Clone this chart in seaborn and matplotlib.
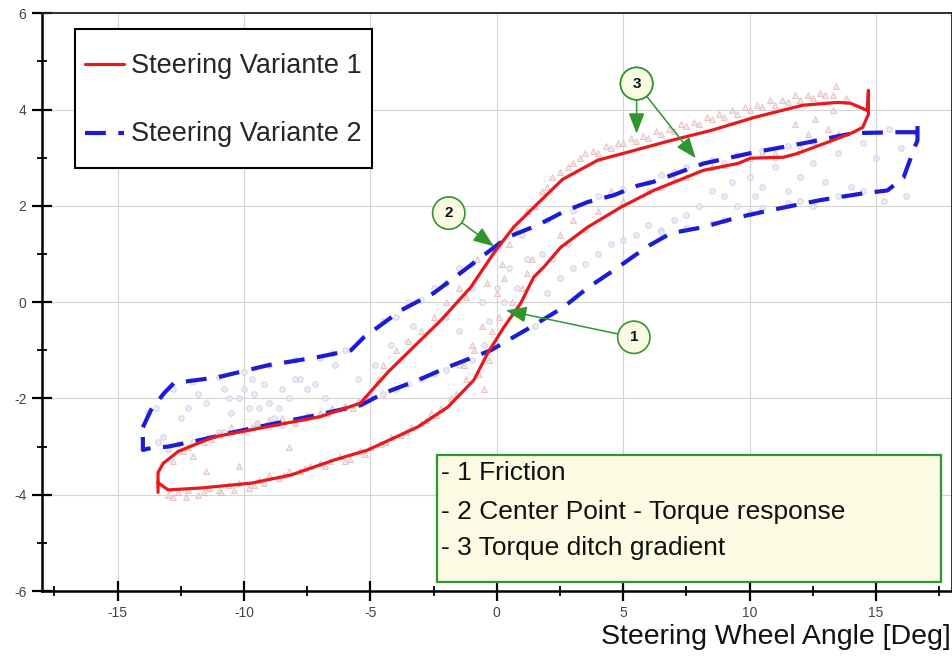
import numpy as np
import matplotlib
matplotlib.use("Agg")
import matplotlib.pyplot as plt
import seaborn as sns
from matplotlib.patches import Rectangle
from matplotlib.ticker import MultipleLocator

# steering variante 1 (red) hysteresis loop
red_x = [-13.4, -13.4, -13.2, -12.6, -11.2, -10.0, -8.2, -7.0, -5.4, -4.3, -2.2,
         -1.03, -0.12, 0.67, 1.62, 2.6, 4.0, 5.0, 6.9, 8.5, 10.2, 12.1, 13.5, 14.0,
         14.66, 14.7, 14.7, 14.47, 14.11, 13.08, 11.9, 11.34, 10.04, 9.53, 8.18,
         6.2, 4.9, 3.6, 2.53, 1.86, 1.46, 0.95, 0.28, -0.36, -0.91, -1.94, -3.12,
         -5.1, -6.44, -8.14, -9.72, -11.7, -13.0, -13.4]
red_y = [-3.95, -3.54, -3.35, -3.1, -2.8, -2.68, -2.5, -2.38, -2.1, -1.45, -0.37,
         0.31, 1.02, 1.56, 2.05, 2.55, 2.95, 3.09, 3.36, 3.57, 3.84, 4.09, 4.15, 4.13,
         3.98, 4.4, 3.9, 3.63, 3.53, 3.32, 3.09, 3.01, 2.99, 2.88, 2.74,
         2.32, 1.97, 1.56, 1.14, 0.73, 0.52, -0.02, -0.52, -1.06, -1.62, -2.18, -2.59,
         -3.07, -3.28, -3.59, -3.76, -3.86, -3.9, -3.75]

# steering variante 2 (blue) loop
blue_x = [-14.0, -13.68, -13.16, -12.77, -11.03, -9.05, -7.07, -5.77, -5.26, -4.86,
          -3.79, -2.49, -1.3, -0.63, 0.43, 1.62, 2.65, 3.6, 4.62, 5.57, 6.2, 8.18,
          10.16, 12.13, 14.1, 15.85, 16.64, 16.64, 16.64, 16.48, 16.09, 15.45, 14.5,
          12.8, 10.83, 9.53, 8.18, 6.88, 5.97, 4.62, 3.6, 2.65, 1.34, -0.24, -1.94,
          -3.12, -4.47, -5.38, -7.07, -9.05, -10.4, -11.7, -13.0, -13.68, -14.0, -14.0]
blue_y = [-2.6, -2.24, -1.89, -1.68, -1.56, -1.31, -1.14, -1.0, -0.73, -0.58,
          -0.17, 0.19, 0.66, 0.93, 1.35, 1.6, 1.88, 2.08, 2.22, 2.42, 2.5, 2.88,
          3.11, 3.3, 3.51, 3.53, 3.53, 3.71, 3.36, 3.15, 2.59, 2.32, 2.26,
          2.12, 1.91, 1.76, 1.56, 1.43, 1.16, 0.66, 0.3, -0.1, -0.52, -1.0, -1.35,
          -1.62, -1.89, -2.14, -2.34, -2.55, -2.7, -2.86, -3.0, -3.03, -3.07, -2.6]

# measured samples behind the curves (triangles = variante 1)
tri_x = [-13.0, -12.6, -12.2, -11.8, -11.4, -11.0, -10.6, -10.2, -9.8, -9.4, -9.0, -8.6,
         -8.2, -7.8, -7.4, -7.0, -6.6, -6.2, -5.8, -5.4, -5.0, -4.6, -4.2, -3.8, -3.4,
         -3.0, -2.6, -2.2, -1.8, -12.8, -12.4, -12.0, -11.6, -11.0, -10.5, -10.0, -9.5,
         -9.0, -8.5, -8.0, -7.5, -7.0, -6.5, -6.0, -5.5, -8.2, -10.2, -11.5, -4.5, -4.0,
         -3.5, -3.0, -2.5, -2.0, -1.5, -1.0, -0.6, -0.3, -0.5, 0.0, 0.2, 0.5, -0.8, 0.8,
         1.0, 1.4, 1.5, 2.0, 2.5, 3.0, 3.5, 4.0, 4.5, 5.0, 5.5, 6.0, 6.5, 7.0, 7.5, 8.0,
         8.5, 9.0, 9.5, 10.0, 10.5, 11.0, 11.5, 12.0, 12.5, 13.0, 13.4, 11.8, 12.3, 12.6,
         13.1, 13.3, 2.5, 3.0, 4.0, 5.0, 6.0, 6.5, 7.5, 9.0, 11.0, 12.0, 4.5,
         1.2, 1.8, 2.2, 2.8, 3.3, 3.8, 4.3, 4.8, 5.3, 5.8, 6.3, 6.8, 7.3, 7.8, 8.3, 8.8,
         9.3, 9.8, 10.3, 10.8, 11.3, 11.8, 12.3, 12.8, 13.3, 13.8,
         -12.8, -12.3, -11.6, -10.9, -10.4, -9.6, -9.2, -8.4, -7.6, -6.8, -6.0, -5.2,
         -4.4, -3.6, -2.8, -2.4, -1.6, -1.2,
         -12.2, -11.3, -9.7, -8.7, -7.7, -6.7, -5.7, -5.0, -4.7,
         -1.3, -0.9, -0.7, -0.2, 0.1, 0.3, -0.4, 0.6, 1.2, -1.2,
         7.0, 8.5, 10.0, 10.5, 12.5, 13.5]
tri_y = [-4.0, -3.95, -3.9, -4.0, -3.85, -3.9, -3.8, -3.75, -3.85, -3.7, -3.6, -3.65,
         -3.5, -3.5, -3.4, -3.35, -3.3, -3.2, -3.25, -3.1, -3.0, -2.95, -2.8, -2.75, -2.6,
         -2.5, -2.3, -2.2, -2.0, -3.3, -3.1, -3.2, -2.9, -2.75, -2.6, -2.65, -2.5,
         -2.45, -2.4, -2.5, -2.35, -2.3, -2.2, -2.15, -2.05, -3.0, -3.4, -3.5, -1.3, -1.0,
         -0.8, -0.6, -0.3, 0.0, 0.3, -0.9, -0.5, -1.2, -1.8, 0.2, 0.8, 1.2, 0.9, 1.5,
         0.3, 0.9, 2.0, 2.4, 2.7, 2.9, 3.1, 3.1, 3.2, 3.3, 3.35, 3.4, 3.5, 3.55, 3.65, 3.7,
         3.8, 3.85, 3.9, 4.0, 4.05, 4.1, 4.15, 4.2, 4.25, 4.3, 4.5, 3.7, 3.5, 3.8,
         3.6, 4.0, 1.4, 1.7, 1.9, 2.1, 2.3, 2.4, 2.6, 2.85, 3.1, 3.2, 2.3,
         1.9, 2.3, 2.6, 2.8, 3.0, 3.15, 3.25, 3.3, 3.4, 3.45, 3.55, 3.6, 3.7, 3.75, 3.85, 3.9,
         4.0, 4.05, 4.1, 4.2, 4.2, 4.3, 4.3, 4.35, 4.3, 4.25,
         -4.05, -4.05, -3.95, -3.95, -3.9, -3.8, -3.75, -3.6, -3.45, -3.4, -3.3, -3.15,
         -2.9, -2.7, -2.45, -2.35, -1.9, -1.6,
         -3.0, -2.85, -2.6, -2.5, -2.4, -2.3, -2.2, -1.9, -1.6,
         -1.3, -1.0, -1.5, -0.6, -0.3, 0.5, 0.4, 0.0, 0.6, 0.1,
         2.55, 2.8, 3.0, 3.1, 3.35, 3.5]

# circles = variante 2
circ_x = [-13.5, -13.2, -12.8, -12.0, -11.0, -10.0, -9.0, -8.0, -7.0, -6.5, -6.0,
          -10.5, -10.2, -10.0, -9.8, -9.6, -9.5, -9.2, -9.0, -8.8, -8.5, -8.2, -7.8,
          -7.5, -11.5, -12.5, -11.0, -9.9, -13.0, -12.0, -11.0, -10.0, -9.0, -8.0, -7.0,
          -6.0, -5.0, -4.0, -3.0, -2.0, -1.0, -4.5, -4.0, -3.5, -3.0, -2.5, -2.0, -1.5,
          -1.0, 0.0, 1.0, 2.0, 3.0, 4.0, 5.0, 0.0, 0.3, -0.3, 0.5, -0.5, 1.0, 1.5, 2.0,
          2.5, 3.0, 3.5, 4.0, 4.5, 5.0, 5.5, 6.0, 6.5, 7.0, 6.0, 7.0, 7.5, 8.0, 8.5, 9.0,
          9.3, 9.5, 10.0, 10.2, 10.5, 11.0, 11.5, 12.0, 12.5, 13.0, 13.5, 14.0, 15.0,
          16.2, 15.3, 12.5, 14.5, 11.0, 9.0,
          6.5, 7.5, 8.5, 9.0, 10.0, 10.5, 11.5, 12.0, 13.5, 14.5,
          6.5, 7.5, 8.5, 9.5, 10.5, 11.5, 12.5, 13.5, 15.5, 16.0,
          -2.0, -1.5, -1.0, -0.6, 0.8, 1.2, 1.8, 2.2, 3.5, 2.8,
          -12.2, -11.8, -10.8, -10.6, -9.4, -9.7, -8.6, -8.0, -7.2, -6.8, -6.4, -5.5,
          -4.8, -4.2, -3.8, -3.3, -13.8, -13.4, -12.6, -11.4, -10.8, -8.5, -7.5, -6.5,
          -5.5, -4.5, -3.5, -2.5, -1.5]
circ_y = [-2.2, -2.8, -1.8, -1.65, -1.55, -1.45, -1.3, -1.2, -1.15, -1.05, -1.0,
          -2.3, -2.0, -1.8, -2.2, -1.9, -2.5, -1.7, -2.1, -2.4, -1.8, -2.0, -1.6,
          -1.8, -2.1, -2.4, -2.7, -2.7, -3.05, -2.9, -2.75, -2.65, -2.6, -2.45, -2.35,
          -2.2, -2.0, -1.8, -1.6, -1.4, -1.2, -0.4, -0.3, 0.0, 0.05, 0.3, 0.4, 0.7,
          0.8, 1.1, 1.4, 1.7, 1.9, 2.2, 2.35, 0.3, 0.0, -0.4, 0.7, -0.9, -0.2, -0.5, 0.2,
          0.5, 0.7, 0.8, 1.0, 1.2, 1.3, 1.4, 1.6, 1.5, 1.7, 2.5, 2.7, 1.8, 2.0, 2.3, 2.2,
          2.5, 2.0, 2.6, 2.2, 2.4, 2.8, 2.3, 2.6, 2.9, 2.5, 3.1, 2.4, 3.0,
          2.2, 2.1, 2.0, 3.3, 3.0, 2.9,
          1.45, 1.55, 1.65, 1.7, 1.85, 1.95, 2.05, 2.1, 2.2, 2.3,
          2.65, 2.8, 2.95, 3.05, 3.15, 3.25, 3.35, 3.45, 3.6, 3.2,
          -0.3, -0.6, 0.3, 0.0, 0.3, 0.9, 1.0, 0.9, 1.5, 1.2,
          -2.2, -1.9, -1.8, -2.0, -2.2, -1.6, -2.2, -1.6, -1.7, -2.0, -1.3, -1.6,
          -1.3, -0.9, -1.2, -0.5, -2.3, -2.9, -2.95, -2.8, -2.7, -2.55, -2.4, -2.25,
          -2.1, -1.9, -1.7, -1.5, -1.3]

series_labels = ["Steering Variante 1", "Steering Variante 2"]
notes = ["- 1 Friction", "- 2 Center Point - Torque response", "- 3 Torque ditch gradient"]
# marker number, (circle x, y), arrow targets
markers = [("1", (5.42, -0.73), [(0.36, -0.17)]),
           ("2", (-1.9, 1.85), [(-0.12, 1.16)]),
           ("3", (5.53, 4.54), [(5.53, 3.5), (7.87, 2.99)])]

RED = "#e8191c"
BLUE = "#1c1cd6"
GREEN = "#2f962f"

sns.set_style("white")
plt.rcParams["font.family"] = ["Liberation Sans", "DejaVu Sans"]
plt.rcParams["axes.unicode_minus"] = False

fig = plt.figure(figsize=(9.53, 6.58), dpi=100)
ax = fig.add_axes([0.0438, 0.1018, 0.955, 0.878])

sns.scatterplot(x=tri_x, y=tri_y, marker="^", s=18, color="#f5e0e0",
                edgecolor="#dcaaaa", linewidth=0.6, alpha=0.75, ax=ax, zorder=2)
sns.scatterplot(x=circ_x, y=circ_y, marker="o", s=16, color="#e8e8f6",
                edgecolor="#bcbce0", linewidth=0.6, alpha=0.75, ax=ax, zorder=2)

sns.lineplot(x=red_x, y=red_y, sort=False, estimator=None, color=RED, lw=2.3,
             ax=ax, zorder=4, label=series_labels[0])
sns.lineplot(x=blue_x, y=blue_y, sort=False, estimator=None, color=BLUE, lw=3.0,
             ax=ax, zorder=3, label=series_labels[1])
blue_line = ax.get_lines()[1]
blue_line.set_dashes((5, 3))

ax.set_xlim(-18, 18)
ax.set_ylim(-6, 6)
ax.set_xticks([-15, -10, -5, 0, 5, 10, 15])
ax.set_xticks([-17.5, -12.5, -7.5, -2.5, 2.5, 7.5, 12.5, 17.5], minor=True)
ax.yaxis.set_major_locator(MultipleLocator(2))
ax.yaxis.set_minor_locator(MultipleLocator(1))
ax.grid(True, which="major", color="#d4d4d4", lw=0.8)
ax.set_axisbelow(True)
ax.tick_params(which="both", bottom=True, left=True, top=False, right=False)
ax.tick_params(which="major", direction="inout", length=15, width=1.6,
               labelsize=10, labelcolor="#444444", color="black")
ax.tick_params(which="minor", direction="inout", length=7, width=1.3, color="black")

for side in ["left", "bottom"]:
    ax.spines[side].set_linewidth(1.8)
    ax.spines[side].set_color("black")
for side in ["top", "right"]:
    ax.spines[side].set_linewidth(1.3)
    ax.spines[side].set_color("#222222")

fig.text(0.998, 0.012, "Steering Wheel Angle [Deg]", ha="right", va="bottom",
         fontsize=20.5, color="#111111")

leg = ax.legend(loc="upper left", bbox_to_anchor=(0.0366, 0.972), fontsize=19.5,
                frameon=True, fancybox=False, edgecolor="black", framealpha=1,
                borderaxespad=0, handlelength=1.45, handleheight=2.5,
                handletextpad=0.27, labelspacing=0.66, borderpad=0.36)
leg.get_frame().set_linewidth(1.5)
# the tall handle boxes put the sample lines above the text, move them down
for ln in leg.get_lines():
    ln.set_ydata(np.asarray(ln.get_ydata(), dtype=float) - 5.8)

# note box
ax.add_patch(Rectangle((0.4344, 0.0156), 0.5538, 0.2197, transform=ax.transAxes,
                       facecolor="#fcfce4", edgecolor=GREEN, lw=1.6, zorder=6))
for txt, ty in zip(notes, [0.2042, 0.1367, 0.0744]):
    ax.text(0.4388, ty, txt, transform=ax.transAxes, ha="left", va="center",
            fontsize=19, color="#111111", zorder=7)

# numbered callouts
for num, (cx, cy), targets in markers:
    for tx, ty in targets:
        ax.annotate(num, xy=(tx, ty), xytext=(cx, cy), ha="center", va="center",
                    fontsize=11, fontweight="bold", color="#111111", zorder=8,
                    bbox=dict(boxstyle="circle,pad=0.6", fc="#fbfbe3", ec=GREEN, lw=1.2),
                    arrowprops=dict(arrowstyle="-|>,head_length=0.9,head_width=0.35",
                                    color=GREEN, lw=1.1, mutation_scale=14,
                                    shrinkA=0, shrinkB=0))

fig.savefig("out.png", dpi=100)
